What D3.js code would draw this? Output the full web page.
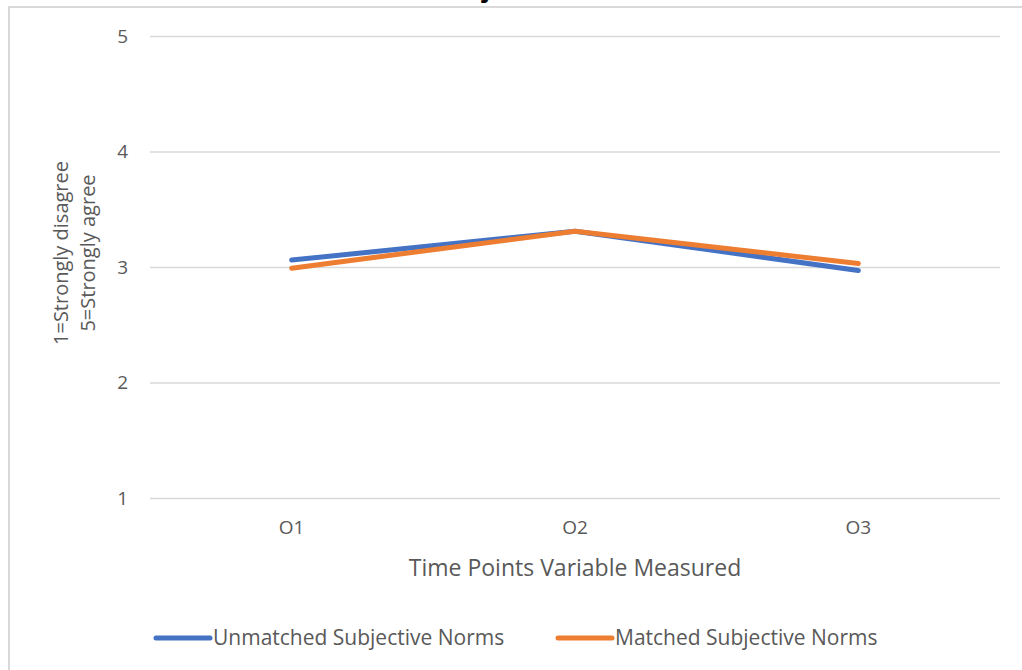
<!DOCTYPE html>
<html>
<head>
<meta charset="utf-8">
<script src="https://cdn.jsdelivr.net/npm/d3@7/dist/d3.min.js"></script>
<style>
  html, body { margin: 0; padding: 0; background: #fff; }
  svg { display: block; font-family: "Open Sans", "Noto Sans", sans-serif; }
</style>
</head>
<body>
<svg id="chart" width="1022" height="670"></svg>
<script>
// Time points and mean scores (1 = strongly disagree, 5 = strongly agree)
const timePoints = ["O1", "O2", "O3"];
const unmatchedNorms = [3.06, 3.31, 2.97];
const matchedNorms = [2.99, 3.31, 3.03];
const seriesNames = ["Unmatched Subjective Norms", "Matched Subjective Norms"];
const seriesColors = ["#4472C4", "#ED7D31"];
const yTicks = [1, 2, 3, 4, 5];

const svg = d3.select("#chart");
const margin = { left: 150, right: 22, top: 36, bottom: 172 };
const W = 1022, H = 670;

// chart frame
svg.append("path")
  .attr("d", `M9,${H} V7 H${W}`)
  .attr("fill", "none")
  .attr("stroke", "#d9d9d9")
  .attr("stroke-width", 2);

// title (top sits above the visible area)
svg.append("text")
  .attr("x", 544).attr("y", -3)
  .attr("text-anchor", "middle")
  .attr("font-size", 24).attr("font-weight", "bold")
  .attr("fill", "#000")
  .text("Subjective Norms");

const x = d3.scaleBand().domain(timePoints)
  .range([margin.left, W - margin.right]);
const y = d3.scaleLinear().domain([1, 5])
  .range([H - margin.bottom, margin.top]);

// horizontal gridlines + tick labels
const yAxis = d3.axisLeft(y).tickValues(yTicks)
  .tickSize(-(W - margin.right - margin.left)).tickPadding(22)
  .tickFormat(d3.format("d"));
const gy = svg.append("g").attr("transform", `translate(${margin.left},0)`).call(yAxis);
gy.select(".domain").remove();
gy.selectAll(".tick line").attr("stroke", "#d9d9d9").attr("stroke-width", 1.3);
gy.selectAll(".tick text").attr("fill", "#595959").attr("font-size", 19)
  .attr("font-family", "Open Sans, sans-serif");

// category labels
const xAxis = d3.axisBottom(x).tickSize(0).tickPadding(23);
const gx = svg.append("g").attr("transform", `translate(0,${H - margin.bottom})`).call(xAxis);
gx.select(".domain").remove();
gx.selectAll(".tick text").attr("fill", "#595959").attr("font-size", 19)
  .attr("font-family", "Open Sans, sans-serif");

// axis titles
svg.append("text")
  .attr("x", (margin.left + W - margin.right) / 2).attr("y", 576)
  .attr("text-anchor", "middle").attr("fill", "#595959").attr("font-size", 23)
  .text("Time Points Variable Measured");

const yTitle = svg.append("text")
  .attr("transform", "translate(68,253) rotate(-90)")
  .attr("text-anchor", "middle").attr("fill", "#595959").attr("font-size", 20);
yTitle.append("tspan").attr("x", 0).attr("dy", 0).text("1=Strongly disagree");
yTitle.append("tspan").attr("x", 0).attr("dy", 27).text("5=Strongly agree");

// series lines
const series = [unmatchedNorms, matchedNorms];
const line = d3.line()
  .x((d, i) => x(timePoints[i]) + x.bandwidth() / 2)
  .y(d => y(d));
series.forEach((vals, k) => {
  svg.append("path")
    .datum(vals)
    .attr("d", line)
    .attr("fill", "none")
    .attr("stroke", seriesColors[k])
    .attr("stroke-width", 5)
    .attr("stroke-linecap", "round")
    .attr("stroke-linejoin", "round");
});

// legend
const legendX = [156, 558];
seriesNames.forEach((name, k) => {
  const g = svg.append("g").attr("transform", `translate(${legendX[k]},638)`);
  g.append("line").attr("x1", 0).attr("x2", 54).attr("y1", 0).attr("y2", 0)
    .attr("stroke", seriesColors[k]).attr("stroke-width", 5).attr("stroke-linecap", "round");
  g.append("text").attr("x", 57).attr("y", 7)
    .attr("fill", "#595959").attr("font-size", 21)
    .text(name);
});
</script>
</body>
</html>
